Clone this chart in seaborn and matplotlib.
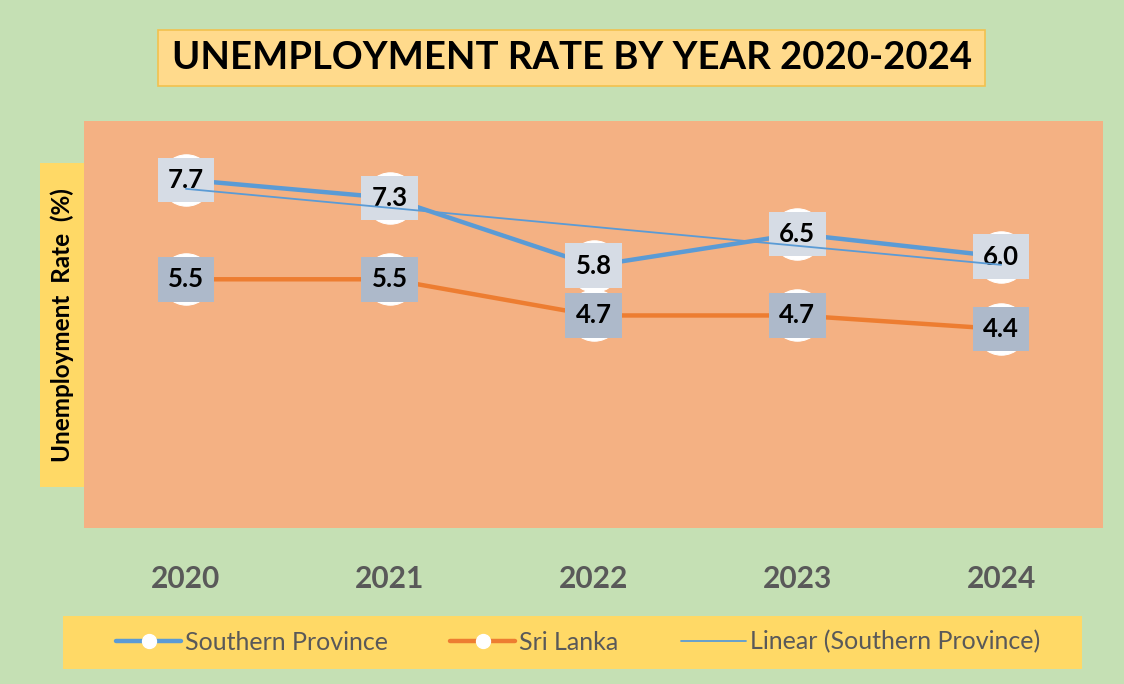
import matplotlib
matplotlib.use('Agg')
import matplotlib.pyplot as plt
import numpy as np
import pandas as pd
import seaborn as sns
from matplotlib.lines import Line2D
from matplotlib.patches import Rectangle

# Data
YEARS = ['2020', '2021', '2022', '2023', '2024']
SOUTHERN = [7.7, 7.3, 5.8, 6.5, 6.0]
SRI_LANKA = [5.5, 5.5, 4.7, 4.7, 4.4]

# Colours
FONDO_FIG = '#C5E0B4'
FONDO_AX = '#F4B183'
AZUL = '#5B9BD5'
NARANJA = '#ED7D31'
AMARILLO = '#FFD966'
GRIS = '#595959'

W, H = 1124, 684

sns.set_theme(style='white')
plt.rcParams['font.family'] = ['Lato', 'DejaVu Sans']

fig = plt.figure(figsize=(W / 100, H / 100), dpi=100, facecolor=FONDO_FIG)


def px(x0, y0, x1, y1):
    """Pixel box (top-left origin) -> figure fraction rect."""
    return [x0 / W, 1 - y1 / H, (x1 - x0) / W, (y1 - y0) / H]


ax = fig.add_axes(px(84, 121, 1103, 528))
ax.set_facecolor(FONDO_AX)

df = pd.DataFrame({
    'year': YEARS * 2,
    'rate': SOUTHERN + SRI_LANKA,
    'region': ['Southern Province'] * len(YEARS) + ['Sri Lanka'] * len(YEARS),
})

sns.lineplot(
    data=df, x='year', y='rate', hue='region',
    palette={'Southern Province': AZUL, 'Sri Lanka': NARANJA},
    linewidth=3.2, marker='o', markersize=37, markerfacecolor='white',
    markeredgecolor='white', legend=False, ax=ax, zorder=3,
)

# Linear trend of Southern Province
xs = np.arange(len(YEARS))
pend, inter = np.polyfit(xs, SOUTHERN, 1)
ax.plot(xs[[0, -1]], inter + pend * xs[[0, -1]], color=AZUL, linewidth=1.3, zorder=6)

# Data labels
for serie, fc in ((SOUTHERN, '#D6DCE5'), (SRI_LANKA, '#ADB9CA')):
    for i, v in enumerate(serie):
        ax.text(i, v, f'{v:.1f}', ha='center', va='center', fontsize=18.5,
                fontweight='bold', color='black', zorder=5,
                bbox=dict(boxstyle='square,pad=0.4', fc=fc, ec='none'))

ax.set_xlim(-0.5, len(YEARS) - 0.5)
ax.set_ylim(0, 9)
ax.set_yticks([])
ax.set_xlabel('')
ax.set_ylabel('')
ax.tick_params(axis='x', length=0, pad=27)
plt.setp(ax.get_xticklabels(), fontsize=21.5, fontweight='bold', color=GRIS)
for s in ax.spines.values():
    s.set_visible(False)

# Title box
fig.patches.append(Rectangle((158 / W, 1 - 86 / H), 827 / W, 56 / H,
                             transform=fig.transFigure, fc='#FFDA8C', ec='#F2C14E',
                             lw=1.2, zorder=0))
fig.text(572 / W, 1 - 58 / H, 'UNEMPLOYMENT RATE BY YEAR 2020-2024', ha='center',
         va='center', fontsize=27.5, fontweight='bold', color='black')

# Y label box
fig.patches.append(Rectangle((40 / W, 1 - 487 / H), 44 / W, 324 / H,
                             transform=fig.transFigure, fc=AMARILLO, ec='none', zorder=0))
fig.text(62 / W, 1 - 325 / H, 'Unemployment  Rate  (%)', ha='center', va='center',
         rotation=90, fontsize=17.5, fontweight='bold', color='black')

# Legend box
fig.patches.append(Rectangle((63 / W, 1 - 669 / H), 1019 / W, 53 / H,
                             transform=fig.transFigure, fc=AMARILLO, ec='none', zorder=0))
handles = [
    Line2D([], [], color=AZUL, lw=3.2, marker='o', markersize=10,
           markerfacecolor='white', markeredgecolor='white'),
    Line2D([], [], color=NARANJA, lw=3.2, marker='o', markersize=10,
           markerfacecolor='white', markeredgecolor='white'),
    Line2D([], [], color=AZUL, lw=1.3),
]
leg = fig.legend(handles, ['Southern Province', 'Sri Lanka', 'Linear (Southern Province)'],
                 loc='center', bbox_to_anchor=(578 / W, 1 - 642 / H), ncol=3,
                 frameon=False, fontsize=18, handlelength=2.6, handletextpad=0.15,
                 columnspacing=2.5)
for t in leg.get_texts():
    t.set_color(GRIS)

fig.savefig('out.png', dpi=100, facecolor=FONDO_FIG)
